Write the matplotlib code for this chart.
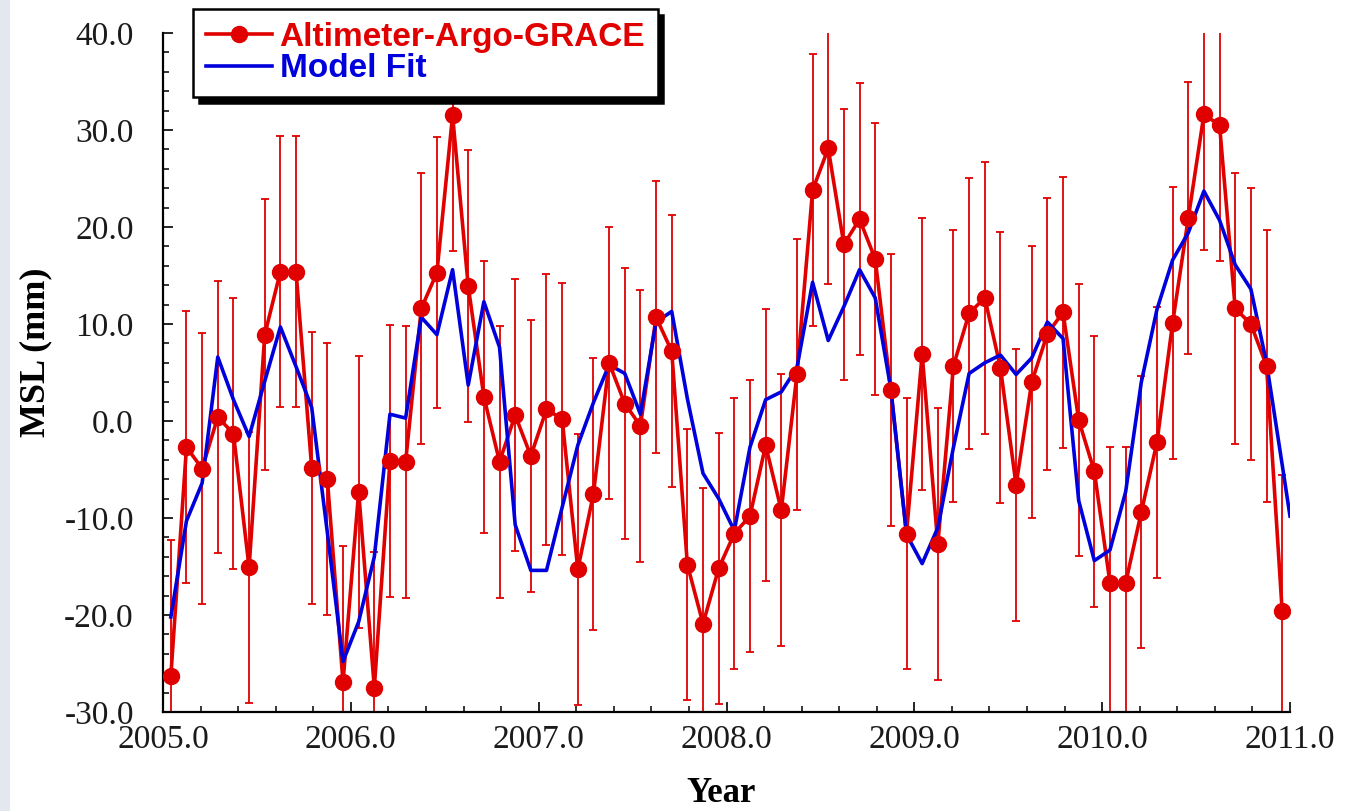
import numpy as np
import matplotlib
matplotlib.use("Agg")
import matplotlib.pyplot as plt
from matplotlib.lines import Line2D
from matplotlib.patches import Rectangle
from matplotlib.ticker import MultipleLocator, FuncFormatter

# ---------------- data ----------------
# monthly observations, mid-month, Jan 2005 .. Dec 2010
obs_time = 2005.0 + (np.arange(72) + 0.5) / 12.0
obs_msl = [
    -26.3, -2.7, -4.9, 0.4, -1.3, -15.1, 8.9, 15.4, 15.4, -4.85, -6.0, -26.9,   # 2005
    -7.3, -27.5, -4.1, -4.2, 11.6, 15.3, 31.5, 13.9, 2.5, -4.2, 0.6, -3.6,      # 2006
    1.2, 0.2, -15.3, -7.5, 6.0, 1.8, -0.5, 10.7, 7.2, -14.8, -20.9, -15.2,      # 2007
    -11.6, -9.8, -2.5, -9.2, 4.8, 23.8, 28.1, 18.2, 20.8, 16.7, 3.2, -11.6,     # 2008
    6.9, -12.7, 5.7, 11.1, 12.7, 5.5, -6.6, 4.0, 9.0, 11.2, 0.1, -5.2,          # 2009
    -16.7, -16.7, -9.4, -2.2, 10.1, 20.9, 31.6, 30.5, 11.6, 10.0, 5.7, -19.6,   # 2010
]
obs_err = 14.0  # every error bar is about +/-14 mm

# model fit: same months, plus an end point at 2011.0
fit_time = list(obs_time) + [2011.0]
fit_msl = [
    -20.2, -10.3, -6.4, 6.6, 2.2, -1.6, 4.1, 9.7, 5.6, 1.4, -11.5, -24.8,       # 2005
    -20.7, -14.0, 0.7, 0.3, 10.7, 8.9, 15.6, 3.7, 12.3, 7.6, -10.7, -15.4,      # 2006
    -15.4, -8.9, -2.5, 1.9, 5.8, 4.9, 0.7, 10.2, 11.3, 2.3, -5.4, -8.0,         # 2007
    -11.3, -2.7, 2.2, 3.0, 5.5, 14.3, 8.3, 11.8, 15.6, 12.7, 3.3, -11.7,        # 2008
    -14.7, -11.0, -2.7, 4.9, 6.0, 6.8, 4.8, 6.5, 10.2, 8.5, -8.2, -14.4,        # 2009
    -13.3, -7.3, 4.0, 11.5, 16.6, 19.4, 23.7, 20.7, 16.1, 13.6, 6.0, -4.5,      # 2010
    -9.8,                                                                        # 2011.0
]

obs_label = "Altimeter-Argo-GRACE"
fit_label = "Model Fit"
x_label = "Year"
y_label = "MSL (mm)"

RED = "#e00000"
BLUE = "#0000dd"

# ---------------- figure ----------------
W, H = 1348, 811
fig = plt.figure(figsize=(W / 100, H / 100), dpi=100)
fig.patch.set_facecolor("white")

# faint bluish strip at far left edge of the original image
fig.patches.append(Rectangle((0, 0), 10 / W, 1, transform=fig.transFigure,
                             facecolor="#e3e8ef", edgecolor="none", zorder=0))

L, R, T, B = 163, 1290, 33, 712
ax = fig.add_axes([L / W, 1 - B / H, (R - L) / W, (B - T) / H])

ax.errorbar(obs_time, obs_msl, yerr=obs_err, fmt="none", ecolor=RED,
            elinewidth=1.3, capsize=2.8, capthick=1.3, zorder=2)
ax.plot(obs_time, obs_msl, color=RED, lw=2.6, zorder=3)
ax.plot(fit_time, fit_msl, color=BLUE, lw=2.6, zorder=4)
ax.plot(obs_time, obs_msl, ls="none", marker="o", ms=11.5, color=RED,
        mec=RED, zorder=5)

ax.set_xlim(2005.0, 2011.0)
ax.set_ylim(-30.0, 40.0)

for s in ("top", "right"):
    ax.spines[s].set_visible(False)
for s in ("left", "bottom"):
    ax.spines[s].set_linewidth(1.6)
    ax.spines[s].set_color("black")

ax.xaxis.set_major_locator(MultipleLocator(1.0))
ax.xaxis.set_minor_locator(MultipleLocator(0.2))
ax.yaxis.set_major_locator(MultipleLocator(10.0))
ax.yaxis.set_minor_locator(MultipleLocator(2.0))
fmt = FuncFormatter(lambda v, p: "%.1f" % v)
ax.xaxis.set_major_formatter(fmt)
ax.yaxis.set_major_formatter(fmt)

ax.tick_params(which="both", direction="in", top=False, right=False,
               color="black")
ax.tick_params(which="major", length=7, width=1.2)
ax.tick_params(which="minor", length=4.5, width=1.1)
ax.tick_params(axis="x", which="major", pad=9)
ax.tick_params(axis="y", which="major", pad=21)
for lab in ax.get_xticklabels() + ax.get_yticklabels():
    lab.set_fontfamily("Liberation Serif")
    lab.set_fontsize(24)
    lab.set_color("#1a1a1a")

fig.text(721 / W, 1 - 793 / H, x_label, ha="center", va="center",
         fontsize=25, fontweight="bold", family="Liberation Serif")
fig.text(36 / W, 1 - 352 / H, y_label, ha="center", va="center",
         rotation=90, fontsize=26, fontweight="bold", family="Liberation Serif")

# ---------------- legend ----------------
handles = [
    Line2D([], [], color=RED, lw=2.6, marker="o", ms=11.5, mec=RED),
    Line2D([], [], color=BLUE, lw=2.6),
]
leg = ax.legend(handles, [obs_label, fit_label], loc="upper left",
                bbox_to_anchor=(193 / W, 1 - 9 / H),
                bbox_transform=fig.transFigure, borderaxespad=0,
                prop={"family": "Liberation Sans", "weight": "bold", "size": 24},
                handlelength=2.0, handletextpad=0.22, labelspacing=0.02,
                borderpad=0.38, fancybox=False, framealpha=1, edgecolor="black",
                shadow={"ox": 4, "oy": -4, "shade": 1.0, "alpha": 1})
leg.get_frame().set_linewidth(1.8)
leg.set_zorder(10)
for txt, c in zip(leg.get_texts(), [RED, BLUE]):
    txt.set_color(c)

fig.savefig("out.png", dpi=100, facecolor="white")
